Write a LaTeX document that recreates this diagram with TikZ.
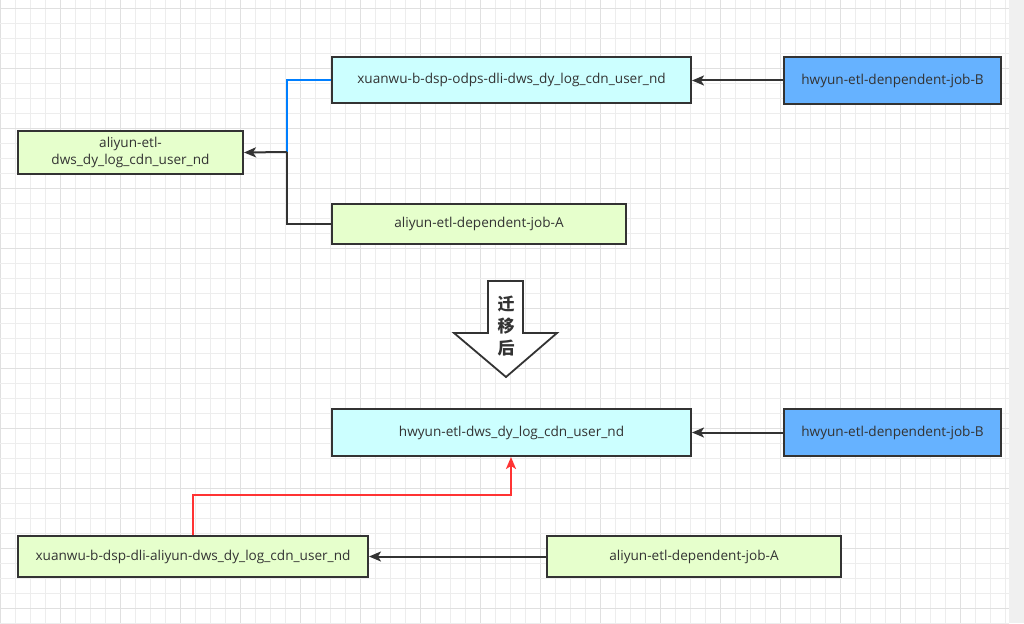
\documentclass[tikz,border=0pt]{standalone}
\usepackage{fontspec}
\setmainfont{Open Sans}
\newfontfamily\cjk{Noto Sans CJK SC}
\usetikzlibrary{arrows.meta}
\definecolor{gridminor}{HTML}{EDEDED}
\definecolor{gridmajor}{HTML}{E0E0E0}
\definecolor{strip}{HTML}{F0F0F0}
\definecolor{txt}{HTML}{333333}
\definecolor{cyanfill}{HTML}{CCFFFF}
\definecolor{bluefill}{HTML}{66B2FF}
\definecolor{greenfill}{HTML}{E6FFCC}
\definecolor{linkblue}{HTML}{007FFF}
\definecolor{linkred}{HTML}{FF3333}
\tikzset{
  box/.style={draw=txt, line width=2pt, anchor=north west, inner sep=2pt,
    text=txt, font=\fontsize{13.6}{16.5}\selectfont, align=center},
  link/.style={draw=txt, line width=2pt, -{Stealth[length=12pt,width=10pt,inset=3pt]}},
}
\begin{document}
\begin{tikzpicture}[x=1pt,y=-1pt]
\useasboundingbox (0,0) rectangle (1024,623);
\fill[white] (0,0) rectangle (1024,623);
% grid
\foreach \i in {0,...,67} {
  \pgfmathtruncatemacro\m{mod(\i,4)}
  \ifnum\m=0 \draw[gridmajor, line width=0.8pt] (15*\i,0) -- (15*\i,623);
  \else \draw[gridminor, line width=0.8pt] (15*\i,0) -- (15*\i,623); \fi
}
\foreach \j in {0,...,41} {
  \pgfmathtruncatemacro\m{mod(\j,4)}
  \ifnum\m=0 \draw[gridmajor, line width=0.8pt] (0,8+15*\j) -- (1009,8+15*\j);
  \else \draw[gridminor, line width=0.8pt] (0,8+15*\j) -- (1009,8+15*\j); \fi
}
\fill[strip] (1009,0) rectangle (1024,623);

% top part
\node[box, fill=cyanfill, minimum width=359pt, minimum height=46pt] (a1) at (331,56) {xuanwu-b-dsp-odps-dli-dws\_dy\_log\_cdn\_user\_nd};
\node[box, fill=bluefill, minimum width=217pt, minimum height=47pt] (a2) at (783,56) {hwyun-etl-denpendent-job-B};
\node[box, fill=greenfill, minimum width=225pt, minimum height=43pt] (a3) at (17,130) {aliyun-etl-\\dws\_dy\_log\_cdn\_user\_nd};
\node[box, fill=greenfill, minimum width=294pt, minimum height=40pt] (a4) at (331,203) {aliyun-etl-dependent-job-A};
\coordinate (j1) at (287,152);

\draw[link] (a2.west) -- (a2.west -| a1.east);
\draw[linkblue, line width=2pt] (a1.west) -| (j1);
\draw[txt, line width=2pt] (a4.west) -| (j1);
\draw[link] (j1) -- (a3.east);

% big arrow
\coordinate (p1) at (488,281);
\coordinate (p2) at (523,281);
\coordinate (p3) at (523,333);
\coordinate (p4) at (557,333);
\coordinate (p5) at (506,377);
\coordinate (p6) at (454,333);
\coordinate (p7) at (488,333);
\draw[txt, fill=white, line width=1.8pt, line join=miter] (p1) -- (p2) -- (p3) -- (p4) -- (p5) -- (p6) -- (p7) -- cycle;
\node[text=txt, font=\cjk\bfseries\fontsize{17}{22}\selectfont, align=center, inner sep=0pt] (t) at (506,326) {迁\\移\\后};

% bottom part
\node[box, fill=cyanfill, minimum width=359pt, minimum height=47pt] (b1) at (331,408) {hwyun-etl-dws\_dy\_log\_cdn\_user\_nd};
\node[box, fill=bluefill, minimum width=217pt, minimum height=47pt] (b2) at (783,408) {hwyun-etl-denpendent-job-B};
\node[box, fill=greenfill, minimum width=350pt, minimum height=41pt] (b3) at (17,535) {xuanwu-b-dsp-dli-aliyun-dws\_dy\_log\_cdn\_user\_nd};
\node[box, fill=greenfill, minimum width=294pt, minimum height=41pt] (b4) at (546,535) {aliyun-etl-dependent-job-A};
\coordinate (r1) at (193,495);
\coordinate (r2) at (511,495);

\draw[link] (b2.west) -- (b2.west -| b1.east);
\draw[link] (b4.west) -- (b4.west -| b3.east);
\draw[draw=linkred, line width=2pt, -{Stealth[length=12pt,width=10pt,inset=3pt,fill=linkred]}] (b3.north -| r1) -- (r1) -- (r2) -- (r2 |- b1.south);
\end{tikzpicture}
\end{document}
